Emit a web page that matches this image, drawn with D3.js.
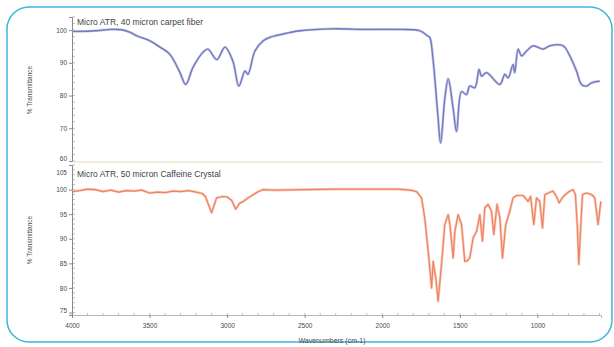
<!DOCTYPE html>
<html><head><meta charset="utf-8">
<script src="https://cdn.jsdelivr.net/npm/d3@7"></script>
<style>
html,body{margin:0;padding:0;background:#fff;}
svg{display:block;font-family:"Liberation Sans",Arial,sans-serif;}
</style></head>
<body><svg id="c" width="614" height="347"></svg>
<script>
// ---- data (wavenumber cm-1, % transmittance) ----
const topTitle = "Micro ATR, 40 micron carpet fiber";
const bottomTitle = "Micro ATR, 50 micron Caffeine Crystal";
const xLabel = "Wavenumbers (cm-1)";
const yLabel = "% Transmittance";
const xTicks = [4000, 3500, 3000, 2500, 2000, 1500, 1000];
const topYTicks = [60, 70, 80, 90, 100];
const bottomYTicks = [75, 80, 85, 90, 95, 100, 105];

const carpetWave = [3995,3950,3850,3750,3680,3620,3580,3500,3433,3369,3304,3267,3220,3156,3124,3066,3014,2963,2924,2885,2866,2821,2769,2724,2600,2531,2318,2100,1887,1758,1706,1693,1674,1642,1624,1597,1575,1543,1521,1489,1457,1436,1403,1376,1360,1328,1242,1210,1189,1157,1146,1124,1102,1070,1028,963,920,834,791,748,716,684,651,598];
const carpetT    = [99.6,99.6,99.8,100.2,100.1,99.2,98.2,96.8,94.8,92.6,87.0,83.4,88.6,93.2,94.2,91.0,94.8,90.5,82.9,87.5,86.5,93.6,96.7,97.8,99.2,99.8,100.4,100.2,100.2,99.8,98.2,97.7,91.7,74.2,65.5,79.0,85.1,76.0,69.0,81.2,80.3,82.9,82.4,88.0,85.9,87.0,83.4,86.5,85.4,89.5,87.0,94.2,92.1,93.6,95.2,94.2,95.2,95.2,92.1,87.5,83.4,82.9,83.9,84.4];

const caffWave = [3995,3950,3900,3850,3800,3750,3700,3650,3600,3550,3500,3450,3400,3350,3300,3250,3200,3160,3140,3100,3068,3030,3000,2970,2945,2920,2896,2870,2840,2810,2769,2700,2500,2300,2100,1900,1820,1779,1747,1726,1704,1682,1672,1655,1640,1618,1597,1575,1564,1543,1532,1511,1489,1468,1452,1436,1414,1392,1371,1354,1339,1318,1296,1281,1260,1242,1225,1204,1178,1157,1135,1092,1060,1044,1023,1006,985,967,952,899,877,860,834,791,770,755,742,733,720,709,684,651,630,609,591];
const caffT    = [99.6,99.8,100.1,100.0,99.6,99.9,99.5,99.8,99.7,99.9,99.3,99.5,99.4,99.7,99.6,99.8,99.5,99.2,98.6,95.3,98.3,98.6,98.5,97.8,96.0,97.2,97.6,98.2,98.8,99.4,100.0,99.9,100.0,100.1,100.1,100.1,99.9,99.6,98.3,94.2,87.5,80.0,85.4,82.0,77.3,84.8,92.9,94.9,92.9,86.1,91.5,94.9,92.9,85.4,85.5,86.1,90.2,91.5,94.9,89.5,96.3,97.0,95.6,90.9,97.0,94.2,86.1,92.9,95.6,98.3,98.8,98.8,97.6,98.6,92.9,98.3,97.6,92.2,99.0,99.7,98.6,97.3,98.6,99.7,100.0,99.0,92.2,84.8,92.9,99.0,99.3,99.0,98.3,92.9,97.6];

// ---- drawing ----
const svg = d3.select("#c");
const axisCol = "#8a8a8a", textCol = "#4a4a4a";

svg.append("rect").attr("x",7).attr("y",7).attr("width",605).attr("height",335)
  .attr("rx",22).attr("ry",22).attr("fill","#fff").attr("stroke","#3fb6da").attr("stroke-width",1.5);

const x = d3.scaleLinear().domain([4000, 590]).range([72, 601]);
const yTop = d3.scaleLinear().domain([60, 104]).range([161, 17]);
const yBot = d3.scaleLinear().domain([74.5, 105]).range([315, 165]);

function styleAxis(g){
  g.select(".domain").attr("stroke", axisCol).attr("stroke-width",1);
  g.selectAll(".tick line").attr("stroke", axisCol);
  g.selectAll(".tick text").attr("fill", textCol).attr("font-size", 6.5);
}

// minor ticks
function minorY(scale, lo, hi, step){
  const g = svg.append("g");
  g.selectAll("line").data(d3.range(lo, hi + 0.001, step)).join("line")
    .attr("x1",72).attr("x2",75).attr("y1",d=>scale(d)).attr("y2",d=>scale(d))
    .attr("stroke","#b0b0b0").attr("stroke-width",0.8);
}
minorY(yTop, 60, 104, 2);
minorY(yBot, 75, 105, 1);
const gxm = svg.append("g");
gxm.selectAll("line").data(d3.range(600, 4001, 100)).join("line")
  .attr("x1",d=>x(d)).attr("x2",d=>x(d)).attr("y1",313).attr("y2",315)
  .attr("stroke","#b0b0b0").attr("stroke-width",0.8);

// top panel separator / baseline
svg.append("line").attr("x1",73).attr("x2",602).attr("y1",162).attr("y2",162)
  .attr("stroke","#e3dcc0").attr("stroke-width",1.2);

// y axes
const gyt = svg.append("g").attr("transform","translate(72,0)")
  .call(d3.axisLeft(yTop).tickValues(topYTicks).tickSize(3).tickPadding(2));
styleAxis(gyt);
gyt.selectAll(".tick text").filter(d=>d===60).attr("dy","-0.1em");

const gyb = svg.append("g").attr("transform","translate(72,0)")
  .call(d3.axisLeft(yBot).tickValues(bottomYTicks).tickSize(3).tickPadding(2));
styleAxis(gyb);
gyb.selectAll(".tick text").filter(d=>d===105).attr("dy","1.4em");
gyb.selectAll(".tick text").filter(d=>d===75).attr("dy","-0.05em");

// x axis
const gx = svg.append("g").attr("transform","translate(0,315)")
  .call(d3.axisBottom(x).tickValues(xTicks).tickSize(3).tickPadding(5).tickFormat(d3.format("d")));
styleAxis(gx);
gx.select(".domain").attr("stroke","#b8b8b8");

// labels
svg.append("text").attr("x",332).attr("y",343).attr("text-anchor","middle")
  .attr("font-size",7).attr("fill",textCol).text(xLabel);
[[90],[240]].forEach(([cy])=>{
  svg.append("text").attr("transform",`translate(32,${cy}) rotate(-90)`)
    .attr("text-anchor","middle").attr("font-size",6.5).attr("fill",textCol).text(yLabel);
});
svg.append("text").attr("x",77).attr("y",25).attr("font-size",8.5).attr("fill","#444").text(topTitle);
svg.append("text").attr("x",77).attr("y",177).attr("font-size",8.5).attr("fill","#444").text(bottomTitle);

// series
const topData = carpetWave.map((w,i)=>[w, carpetT[i]]);
const botData = caffWave.map((w,i)=>[w, caffT[i]]);
const lineTop = d3.line().x(d=>x(d[0])).y(d=>yTop(d[1])).curve(d3.curveCatmullRom);
const lineBot = d3.line().x(d=>x(d[0])).y(d=>yBot(d[1])).curve(d3.curveLinear);

svg.append("path").datum(topData).attr("d", lineTop)
  .attr("fill","none").attr("stroke","#c5c7e8").attr("stroke-width",2.6).attr("stroke-linejoin","round");
svg.append("path").datum(topData).attr("d", lineTop)
  .attr("fill","none").attr("stroke","#7478bc").attr("stroke-width",1.3).attr("stroke-linejoin","round");
svg.append("path").datum(botData).attr("d", lineBot)
  .attr("fill","none").attr("stroke","#f8cbbb").attr("stroke-width",2.6).attr("stroke-linejoin","round");
svg.append("path").datum(botData).attr("d", lineBot)
  .attr("fill","none").attr("stroke","#ee8262").attr("stroke-width",1.2).attr("stroke-linejoin","round");
</script></body></html>
